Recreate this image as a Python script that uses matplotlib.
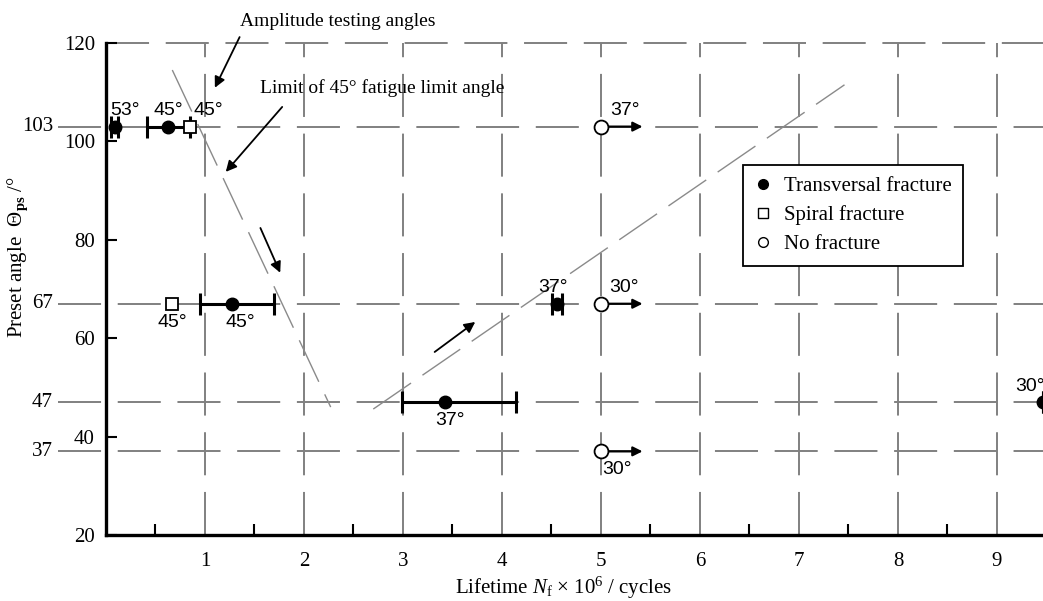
import matplotlib
matplotlib.use("Agg")
import matplotlib.pyplot as plt
from matplotlib.lines import Line2D

plt.rcParams["font.family"] = "Liberation Serif"
plt.rcParams["mathtext.fontset"] = "custom"
plt.rcParams["mathtext.rm"] = "Liberation Serif"
plt.rcParams["mathtext.it"] = "Liberation Serif:italic"
plt.rcParams["mathtext.bf"] = "Liberation Serif:bold"
plt.rcParams["lines.scale_dashes"] = False

# preset angle levels used in the tests
levels = [103, 67, 47, 37]

# transversal fracture: lifetime (x 10^6), preset angle, error bar low/high, label
trans_x = [0.09, 0.63, 1.27, 4.56, 3.42, 9.465]
trans_y = [103, 103, 67, 67, 47, 47]
trans_lo = [0.05, 0.41, 0.95, 4.51, 2.99, 9.465]
trans_hi = [0.12, 0.85, 1.70, 4.61, 4.14, 9.465]
trans_lab = ["53°", "45°", "45°", "37°", "37°", "30°"]

# spiral fracture
spiral_x = [0.85, 0.67]
spiral_y = [103, 67]
spiral_lab = ["45°", "45°"]

# no fracture (run-outs)
nofrac_x = [5.0, 5.0, 5.0]
nofrac_y = [103, 67, 37]
nofrac_lab = ["37°", "30°", "30°"]

# dashed trend lines
amp_line_x = [0.67, 2.27]
amp_line_y = [114.5, 46.0]
lim_line_x = [2.70, 7.46]
lim_line_y = [45.6, 111.5]

fig = plt.figure(figsize=(10.43, 6.01), dpi=100)
ax = fig.add_axes([0.1016, 0.1098, 0.8984, 0.8187])
ax.set_xlim(0, 9.465)
ax.set_ylim(20, 120)

grid_kw = dict(color="#808080", lw=1.4, dashes=(31, 12), zorder=1)
for yv in levels:
    ax.plot([-0.485, 9.465], [yv, yv], clip_on=False, **grid_kw)
ax.plot([0, 9.465], [120, 120], clip_on=False, **grid_kw)
for xv in range(1, 10):
    ax.plot([xv, xv], [20, 120], **grid_kw)

line_kw = dict(color="#8a8a8a", lw=1.0, dashes=(33, 10), zorder=1)
ax.plot(amp_line_x, amp_line_y, **line_kw)
ax.plot(lim_line_x, lim_line_y, **line_kw)

for sp in ["top", "right"]:
    ax.spines[sp].set_visible(False)
for sp in ["left", "bottom"]:
    ax.spines[sp].set_linewidth(2.4)

ax.set_yticks([20, 40, 60, 80, 100, 120])
ax.set_xticks(range(1, 10))
ax.set_xticks([0.5 + i for i in range(9)], minor=True)
ax.tick_params(axis="y", direction="in", length=8, width=1.5, pad=8, labelsize=15)
ax.tick_params(axis="x", which="major", direction="in", length=0, pad=12, labelsize=15)
ax.tick_params(axis="x", which="minor", direction="in", length=8, width=1.5)
for yv in levels:
    ax.text(-0.535, yv, str(yv), ha="right", va="center", fontsize=15)

deg_kw = dict(family="Liberation Sans", fontsize=14, color="black")

# transversal fracture points with scatter bands
for i in range(len(trans_x)):
    ax.errorbar(trans_x[i], trans_y[i],
                xerr=[[trans_x[i] - trans_lo[i]], [trans_hi[i] - trans_x[i]]],
                fmt="o", color="black", ms=9, elinewidth=2.2, capsize=8,
                capthick=2.2, zorder=4, clip_on=True)

ax.plot(spiral_x, spiral_y, "s", ms=8, mfc="white", mec="black", mew=1.3, zorder=5)
ax.plot(nofrac_x, nofrac_y, "o", ms=10, mfc="white", mec="black", mew=1.3, zorder=5)
for i in range(len(nofrac_x)):
    ax.annotate("", xy=(nofrac_x[i] + 0.42, nofrac_y[i]), xytext=(nofrac_x[i] + 0.06, nofrac_y[i]),
                arrowprops=dict(arrowstyle="-|>", color="black", lw=1.6, mutation_scale=14,
                                shrinkA=0, shrinkB=0), zorder=4)

# angle labels
ax.text(0.19, 104.5, trans_lab[0], ha="center", va="bottom", **deg_kw)
ax.text(0.63, 104.5, trans_lab[1], ha="center", va="bottom", **deg_kw)
ax.text(1.03, 104.5, spiral_lab[0], ha="center", va="bottom", **deg_kw)
ax.text(0.67, 65.0, spiral_lab[1], ha="center", va="top", **deg_kw)
ax.text(1.36, 65.0, trans_lab[2], ha="center", va="top", **deg_kw)
ax.text(4.52, 68.5, trans_lab[3], ha="center", va="bottom", **deg_kw)
ax.text(3.47, 45.0, trans_lab[4], ha="center", va="top", **deg_kw)
ax.text(9.33, 48.5, trans_lab[5], ha="center", va="bottom", clip_on=False, **deg_kw)
ax.text(5.24, 104.5, nofrac_lab[0], ha="center", va="bottom", **deg_kw)
ax.text(5.23, 68.5, nofrac_lab[1], ha="center", va="bottom", **deg_kw)
ax.text(5.16, 35.0, nofrac_lab[2], ha="center", va="top", **deg_kw)

# annotations
arr = dict(arrowstyle="-|>", color="black", lw=1.3, mutation_scale=16, shrinkA=0, shrinkB=0)
ax.annotate("", xy=(1.10, 110.9), xytext=(1.35, 121.2), arrowprops=arr, annotation_clip=False)
ax.text(2.34, 124.3, "Amplitude testing angles", ha="center", va="center", fontsize=14,
        clip_on=False)
ax.annotate("", xy=(1.21, 93.8), xytext=(1.78, 107.0), arrowprops=arr)
ax.text(1.56, 110.9, "Limit of 45° fatigue limit angle", ha="left", va="center", fontsize=14)
ax.annotate("", xy=(1.76, 73.3), xytext=(1.56, 82.4), arrowprops=arr)
ax.annotate("", xy=(3.73, 63.3), xytext=(3.32, 57.2), arrowprops=arr)

handles = [
    Line2D([], [], ls="none", marker="o", ms=7, mfc="black", mec="black"),
    Line2D([], [], ls="none", marker="s", ms=7, mfc="white", mec="black"),
    Line2D([], [], ls="none", marker="o", ms=7, mfc="white", mec="black"),
]
leg = ax.legend(handles, ["Transversal fracture", "Spiral fracture", "No fracture"],
                loc="upper left", bbox_to_anchor=(0.680, 0.752), borderaxespad=0,
                fontsize=15, frameon=True, fancybox=False, edgecolor="black", framealpha=1,
                handlelength=0.8, handletextpad=0.6, borderpad=0.55, labelspacing=0.45)
leg.get_frame().set_linewidth(1.3)

ax.set_xlabel(r"Lifetime $N_{\mathrm{f}}$ × 10$^{6}$ / cycles", fontsize=15)
ax.xaxis.set_label_coords(0.488, -0.08)
ax.set_ylabel(r"Preset angle  $\mathit{\Theta}_{\mathbf{ps}}$ /°", fontsize=15)
ax.yaxis.set_label_coords(-0.081, 0.565)

fig.savefig("out.png", dpi=100)
